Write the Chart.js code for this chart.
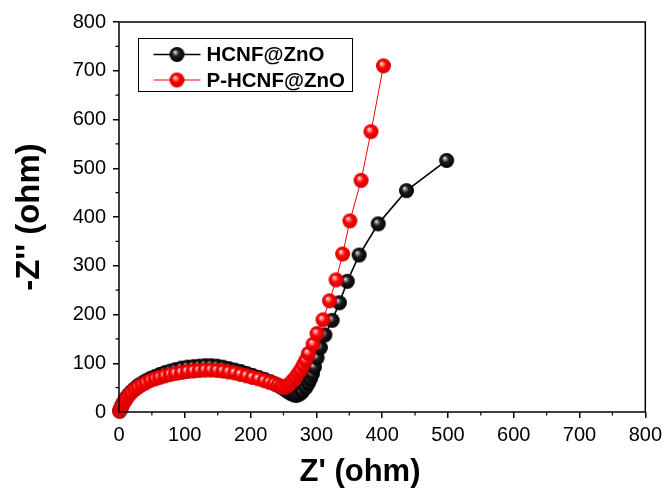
<!DOCTYPE html>
<html>
<head>
<meta charset="utf-8">
<script src="https://cdn.jsdelivr.net/npm/chart.js@4.4.1/dist/chart.umd.min.js"></script>
<style>
  html, body { margin: 0; padding: 0; background: #fff; }
  #wrap { width: 667px; height: 495px; }
</style>
</head>
<body>
<div id="wrap"><canvas id="eis"></canvas></div>
<script>
// === Nyquist data (Z', -Z'') ===
const seriesNames = ['HCNF@ZnO', 'P-HCNF@ZnO'];

const hcnfRe = [1, 3, 5, 8, 11, 15, 19, 24, 29, 35, 41, 48, 55, 62, 70, 78, 86, 95, 104, 113, 122, 131, 140, 149, 158, 167, 176, 185, 194, 203, 212, 221, 230, 238, 245, 251, 256, 261, 266, 270, 275, 279, 284, 288, 291, 294, 297, 301, 306, 313, 324, 335, 347, 365, 394, 437, 498];
const hcnfIm = [2, 8, 15, 22, 29, 36, 42, 48, 54, 59, 64, 69, 73, 77, 81, 84, 87, 90, 92, 93, 94, 95, 95, 94, 92, 89, 86, 83, 79, 75, 71, 67, 62, 57, 52, 47, 42, 38, 35, 34, 37, 42, 50, 59, 68, 78, 92, 111, 132, 158, 188, 224, 268, 322, 386, 454, 516];

const phcnfRe = [1, 3, 5, 8, 11, 15, 19, 24, 29, 35, 41, 48, 55, 62, 70, 78, 86, 95, 104, 113, 122, 131, 140, 149, 158, 167, 176, 185, 194, 203, 212, 221, 229, 236, 242, 247, 251, 256, 260, 264, 268, 272, 276, 280, 284, 288, 295, 301, 310, 320, 330, 340, 351, 368, 383, 402];
const phcnfIm = [2, 8, 14, 21, 27, 34, 40, 46, 51, 56, 60, 65, 68, 71, 74, 77, 79, 81, 83, 84, 85, 86, 86, 85, 84, 82, 80, 77, 74, 71, 68, 64, 61, 58, 55, 52, 50, 53, 58, 64, 70, 78, 86, 96, 106, 120, 139, 161, 189, 228, 271, 324, 392, 475, 575, 710];

const axisTicks = [0, 100, 200, 300, 400, 500, 600, 700, 800];
const minorTicks = [50, 150, 250, 350, 450, 550, 650, 750];

const FONT = '"Liberation Sans", Arial, sans-serif';

// sphere-like marker
function makeBall(r, stops) {
    const c = document.createElement('canvas');
    const s = Math.ceil(r * 2) + 2;
    c.width = s; c.height = s;
    const g = c.getContext('2d');
    const m = s / 2;
    const grad = g.createRadialGradient(m - r * 0.3, m - r * 0.35, 0, m, m, r);
    stops.forEach(st => grad.addColorStop(st[0], st[1]));
    g.fillStyle = grad;
    g.beginPath();
    g.arc(m, m, r, 0, Math.PI * 2);
    g.fill();
    return c;
}
const blackBall = makeBall(7.5, [[0, '#ffffff'], [0.18, '#9a9a9a'], [0.45, '#1e1e1e'], [1, '#000000']]);
const redBall = makeBall(7.5, [[0, '#ffffff'], [0.2, '#ff9090'], [0.5, '#ff0000'], [1, '#d00000']]);

function toPoints(xs, ys) {
    return xs.map((x, i) => ({ x: x, y: ys[i] }));
}

// frame, minor ticks, axis titles, legend
const decorPlugin = {
    id: 'decor',
    afterDraw(chart) {
        const ctx = chart.ctx;
        const a = chart.chartArea;
        const xs = chart.scales.x, ys = chart.scales.y;
        ctx.save();
        ctx.strokeStyle = '#000';
        ctx.lineWidth = 1.5;
        ctx.strokeRect(a.left, a.top, a.right - a.left, a.bottom - a.top);

        ctx.lineWidth = 1.2;
        ctx.beginPath();
        minorTicks.forEach(v => {
            const px = xs.getPixelForValue(v);
            ctx.moveTo(px, a.bottom);
            ctx.lineTo(px, a.bottom + 3.5);
            const py = ys.getPixelForValue(v);
            ctx.moveTo(a.left, py);
            ctx.lineTo(a.left - 3.5, py);
        });
        ctx.stroke();

        // axis titles
        ctx.fillStyle = '#000';
        ctx.font = 'bold 31px ' + FONT;
        ctx.textAlign = 'center';
        ctx.textBaseline = 'middle';
        ctx.fillText("Z' (ohm)", 360, 472);
        ctx.save();
        ctx.translate(30, 217);
        ctx.rotate(-Math.PI / 2);
        ctx.font = 'bold 33px ' + FONT;
        ctx.fillText("-Z'' (ohm)", 0, 0);
        ctx.restore();

        // legend
        const lx = a.left + 19.5, ly = a.top + 16.5;
        ctx.lineWidth = 1;
        ctx.strokeStyle = '#000';
        ctx.strokeRect(lx, ly, 214, 53);
        const rows = [
            { name: seriesNames[0], color: '#000', width: 1.6, ball: blackBall, y: ly + 16 },
            { name: seriesNames[1], color: '#ff0000', width: 1, ball: redBall, y: ly + 41.5 },
        ];
        ctx.font = 'bold 20.5px ' + FONT;
        ctx.textAlign = 'left';
        rows.forEach(r => {
            ctx.strokeStyle = r.color;
            ctx.lineWidth = r.width;
            ctx.beginPath();
            ctx.moveTo(lx + 15, r.y);
            ctx.lineTo(lx + 62, r.y);
            ctx.stroke();
            ctx.drawImage(r.ball, lx + 38.5 - r.ball.width / 2, r.y - r.ball.height / 2);
            ctx.fillStyle = '#000';
            ctx.fillText(r.name, lx + 68, r.y + 1);
        });
        ctx.restore();
    }
};

new Chart(document.getElementById('eis'), {
    type: 'line',
    data: {
        datasets: [{
            label: seriesNames[0],
            data: toPoints(hcnfRe, hcnfIm),
            borderColor: '#000',
            borderWidth: 1.6,
            pointStyle: blackBall,
            pointRadius: 7.5,
            order: 2,
            clip: false,
        }, {
            label: seriesNames[1],
            data: toPoints(phcnfRe, phcnfIm),
            borderColor: '#ff0000',
            borderWidth: 1,
            pointStyle: redBall,
            pointRadius: 7.5,
            order: 1,
            clip: false,
        }]
    },
    options: {
        responsive: true,
        maintainAspectRatio: false,
        animation: false,
        layout: { padding: { top: 22, right: 21, left: 0, bottom: 0 } },
        plugins: { legend: { display: false }, tooltip: { enabled: false } },
        scales: {
            x: {
                type: 'linear', min: 0, max: 800,
                afterBuildTicks: s => { s.ticks = axisTicks.map(v => ({ value: v })); },
                afterFit: s => { s.height = 83; },
                grid: { drawOnChartArea: false, tickLength: 6, color: '#000', lineWidth: 1.5 },
                border: { display: false },
                ticks: { color: '#000', padding: 5, maxRotation: 0, font: { family: FONT, size: 20 } }
            },
            y: {
                type: 'linear', min: 0, max: 800,
                afterBuildTicks: s => { s.ticks = axisTicks.map(v => ({ value: v })); },
                afterFit: s => { s.width = 119; },
                grid: { drawOnChartArea: false, tickLength: 6, color: '#000', lineWidth: 1.5 },
                border: { display: false },
                ticks: { color: '#000', padding: 7, font: { family: FONT, size: 20 } }
            }
        }
    },
    plugins: [decorPlugin]
});
</script>
</body>
</html>
